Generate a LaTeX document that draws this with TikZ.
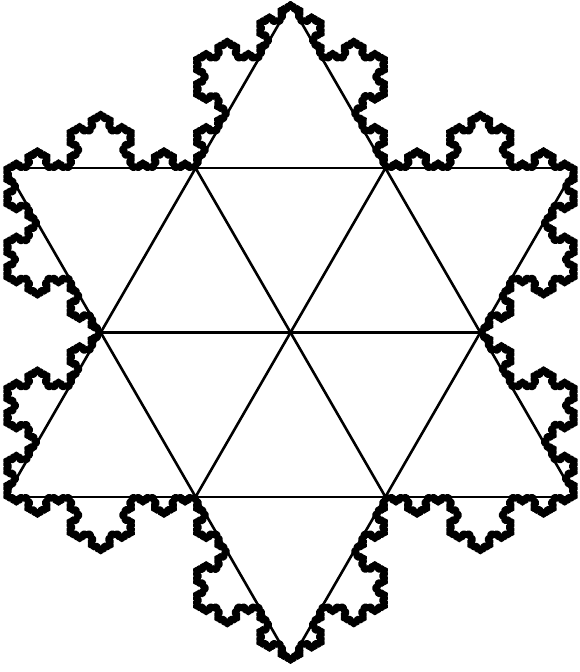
\documentclass[tikz,border=0pt]{standalone}
\usetikzlibrary{decorations.fractals}
\begin{document}
\begin{tikzpicture}[x=1pt,y=1pt,
  edge/.style={line width=2.6pt, line cap=round},
  koch/.style={line width=5.6pt, line join=round, line cap=round, decoration=Koch snowflake}]
\useasboundingbox (0,0) rectangle (579,672);
\coordinate (O) at (290.5,339.5);
\def\s{189.8}
\foreach \a in {0,60,...,300} \coordinate (H\a) at ([shift={(\a:\s)}]O);
\foreach \a in {30,90,...,330} \coordinate (P\a) at ([shift={(\a:{\s*1.73205})}]O);
% straight lattice lines
\draw[edge] (P150) -- (P30);
\draw[edge] (H180) -- (H0);
\draw[edge] (P210) -- (P330);
\draw[edge] (P90) -- (P210);
\draw[edge] (P90) -- (P330);
\draw[edge] (P150) -- (P270);
\draw[edge] (P30) -- (P270);
\draw[edge] (H120) -- (H300);
\draw[edge] (H60) -- (H240);
% Koch curves on the outer edges
\draw[koch] decorate{decorate{decorate{decorate{ (P90) -- (H60) -- (P30) -- (H0) -- (P330) -- (H300) -- (P270) -- (H240) -- (P210) -- (H180) -- (P150) -- (H120) -- cycle }}}};
\end{tikzpicture}
\end{document}
